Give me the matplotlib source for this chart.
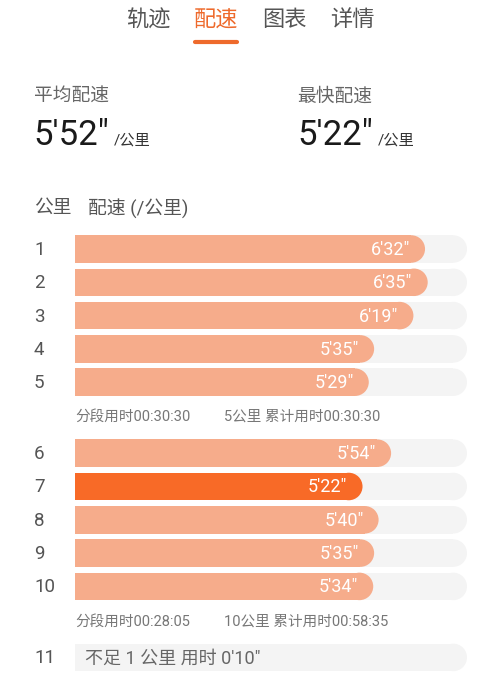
import matplotlib
matplotlib.use("Agg")
import matplotlib.pyplot as plt
from matplotlib.patches import Ellipse, Rectangle

plt.rcParams['font.family'] = ['Roboto', 'Noto Sans CJK SC', 'DejaVu Sans']

# data
tabs = ['轨迹', '配速', '图表', '详情']
avg_pace = "5'52\""
best_pace = "5'22\""
km = [1, 2, 3, 4, 5, 6, 7, 8, 9, 10]
pace_sec = [392, 395, 379, 335, 329, 354, 322, 340, 335, 334]
pace_lbl = ["6'32\"", "6'35\"", "6'19\"", "5'35\"", "5'29\"",
            "5'54\"", "5'22\"", "5'40\"", "5'35\"", "5'34\""]
splits = [('分段用时00:30:30', '5公里 累计用时00:30:30'),
          ('分段用时00:28:05', '10公里 累计用时00:58:35')]
last_km = 11
last_txt = "不足 1 公里 用时 0'10\""

W, H = 500, 676
LIGHT = '#F6AC8B'
HOT = '#F86A27'
TRACK = '#F4F4F4'
ORANGE = '#EE6A2C'

fig = plt.figure(figsize=(W / 100, H / 100), dpi=100)
fig.patch.set_facecolor('white')

# bar layer: x in seconds, y in pixels
x0, x1 = 75, 467
full = 439
px_per_s = (x1 - x0) / full
ax = fig.add_axes([x0 / W, 0, (x1 - x0) / W, 1])
ax.set_xlim(0, full)
ax.set_ylim(H, 0)
ax.axis('off')

# text layer in pixel coords, on top of the bars
ax0 = fig.add_axes([0, 0, 1, 1])
ax0.set_xlim(0, W)
ax0.set_ylim(H, 0)
ax0.axis('off')
ax0.patch.set_alpha(0)

# tabs
for i, t in enumerate(tabs):
    x = 148 + i * 68
    ax0.text(x, 21, t, ha='center', va='center', fontsize=16,
             color=ORANGE if i == 1 else '#555555')
ax0.plot([195, 237], [41.5, 41.5], color=ORANGE, lw=3, solid_capstyle='round')

# summary
ax0.text(34, 97, '平均配速', fontsize=13.5, color='#666666', va='center')
ax0.text(297, 97, '最快配速', fontsize=13.5, color='#666666', va='center')
ax0.text(33, 145, avg_pace, fontsize=25, color='#1a1a1a', va='baseline')
ax0.text(114, 145, '/公里', fontsize=11, color='#333333', va='baseline')
ax0.text(297, 145, best_pace, fontsize=25, color='#1a1a1a', va='baseline')
ax0.text(378, 145, '/公里', fontsize=11, color='#333333', va='baseline')

ax0.text(34, 208, '公里', fontsize=13.5, color='#555555', va='center')
ax0.text(88, 208, '配速 (/公里)', fontsize=13.5, color='#555555', va='center')

bh = 27.5
rx = (bh / 2) / px_per_s


def row_y(i):
    # rows 1-5, gap, rows 6-10, gap, row 11
    grp = i // 5
    return 249 + i * 33.3 + grp * 37.7


def pill(y, v, color):
    ax.add_patch(Rectangle((0, y - bh / 2), v - rx, bh, color=color, lw=0))
    ax.add_patch(Ellipse((v - rx, y), 2 * rx, bh, color=color, lw=0))


best = pace_sec.index(min(pace_sec))
for i, (k, v, lbl) in enumerate(zip(km, pace_sec, pace_lbl)):
    y = row_y(i)
    pill(y, full, TRACK)
    pill(y, v, HOT if i == best else LIGHT)
    ax.text(v - 15 / px_per_s, y + 1, lbl, ha='right', va='center',
            fontsize=13, color='white')
    ax0.text(34, y + 1, str(k), ha='left', va='center', fontsize=13.5,
             color='#555555')

for g, (a, b) in enumerate(splits):
    y = 417 + g * 205
    ax0.text(75, y, a, fontsize=10.5, color='#777777', va='center')
    ax0.text(224, y, b, fontsize=10.5, color='#777777', va='center')

y11 = row_y(10)
pill(y11, full, TRACK)
ax0.text(34, y11 + 1, str(last_km), fontsize=13.5, color='#555555', va='center')
ax0.text(85, y11 + 1, last_txt, fontsize=13, color='#666666', va='center')

fig.savefig('out.png', dpi=100, facecolor='white')
